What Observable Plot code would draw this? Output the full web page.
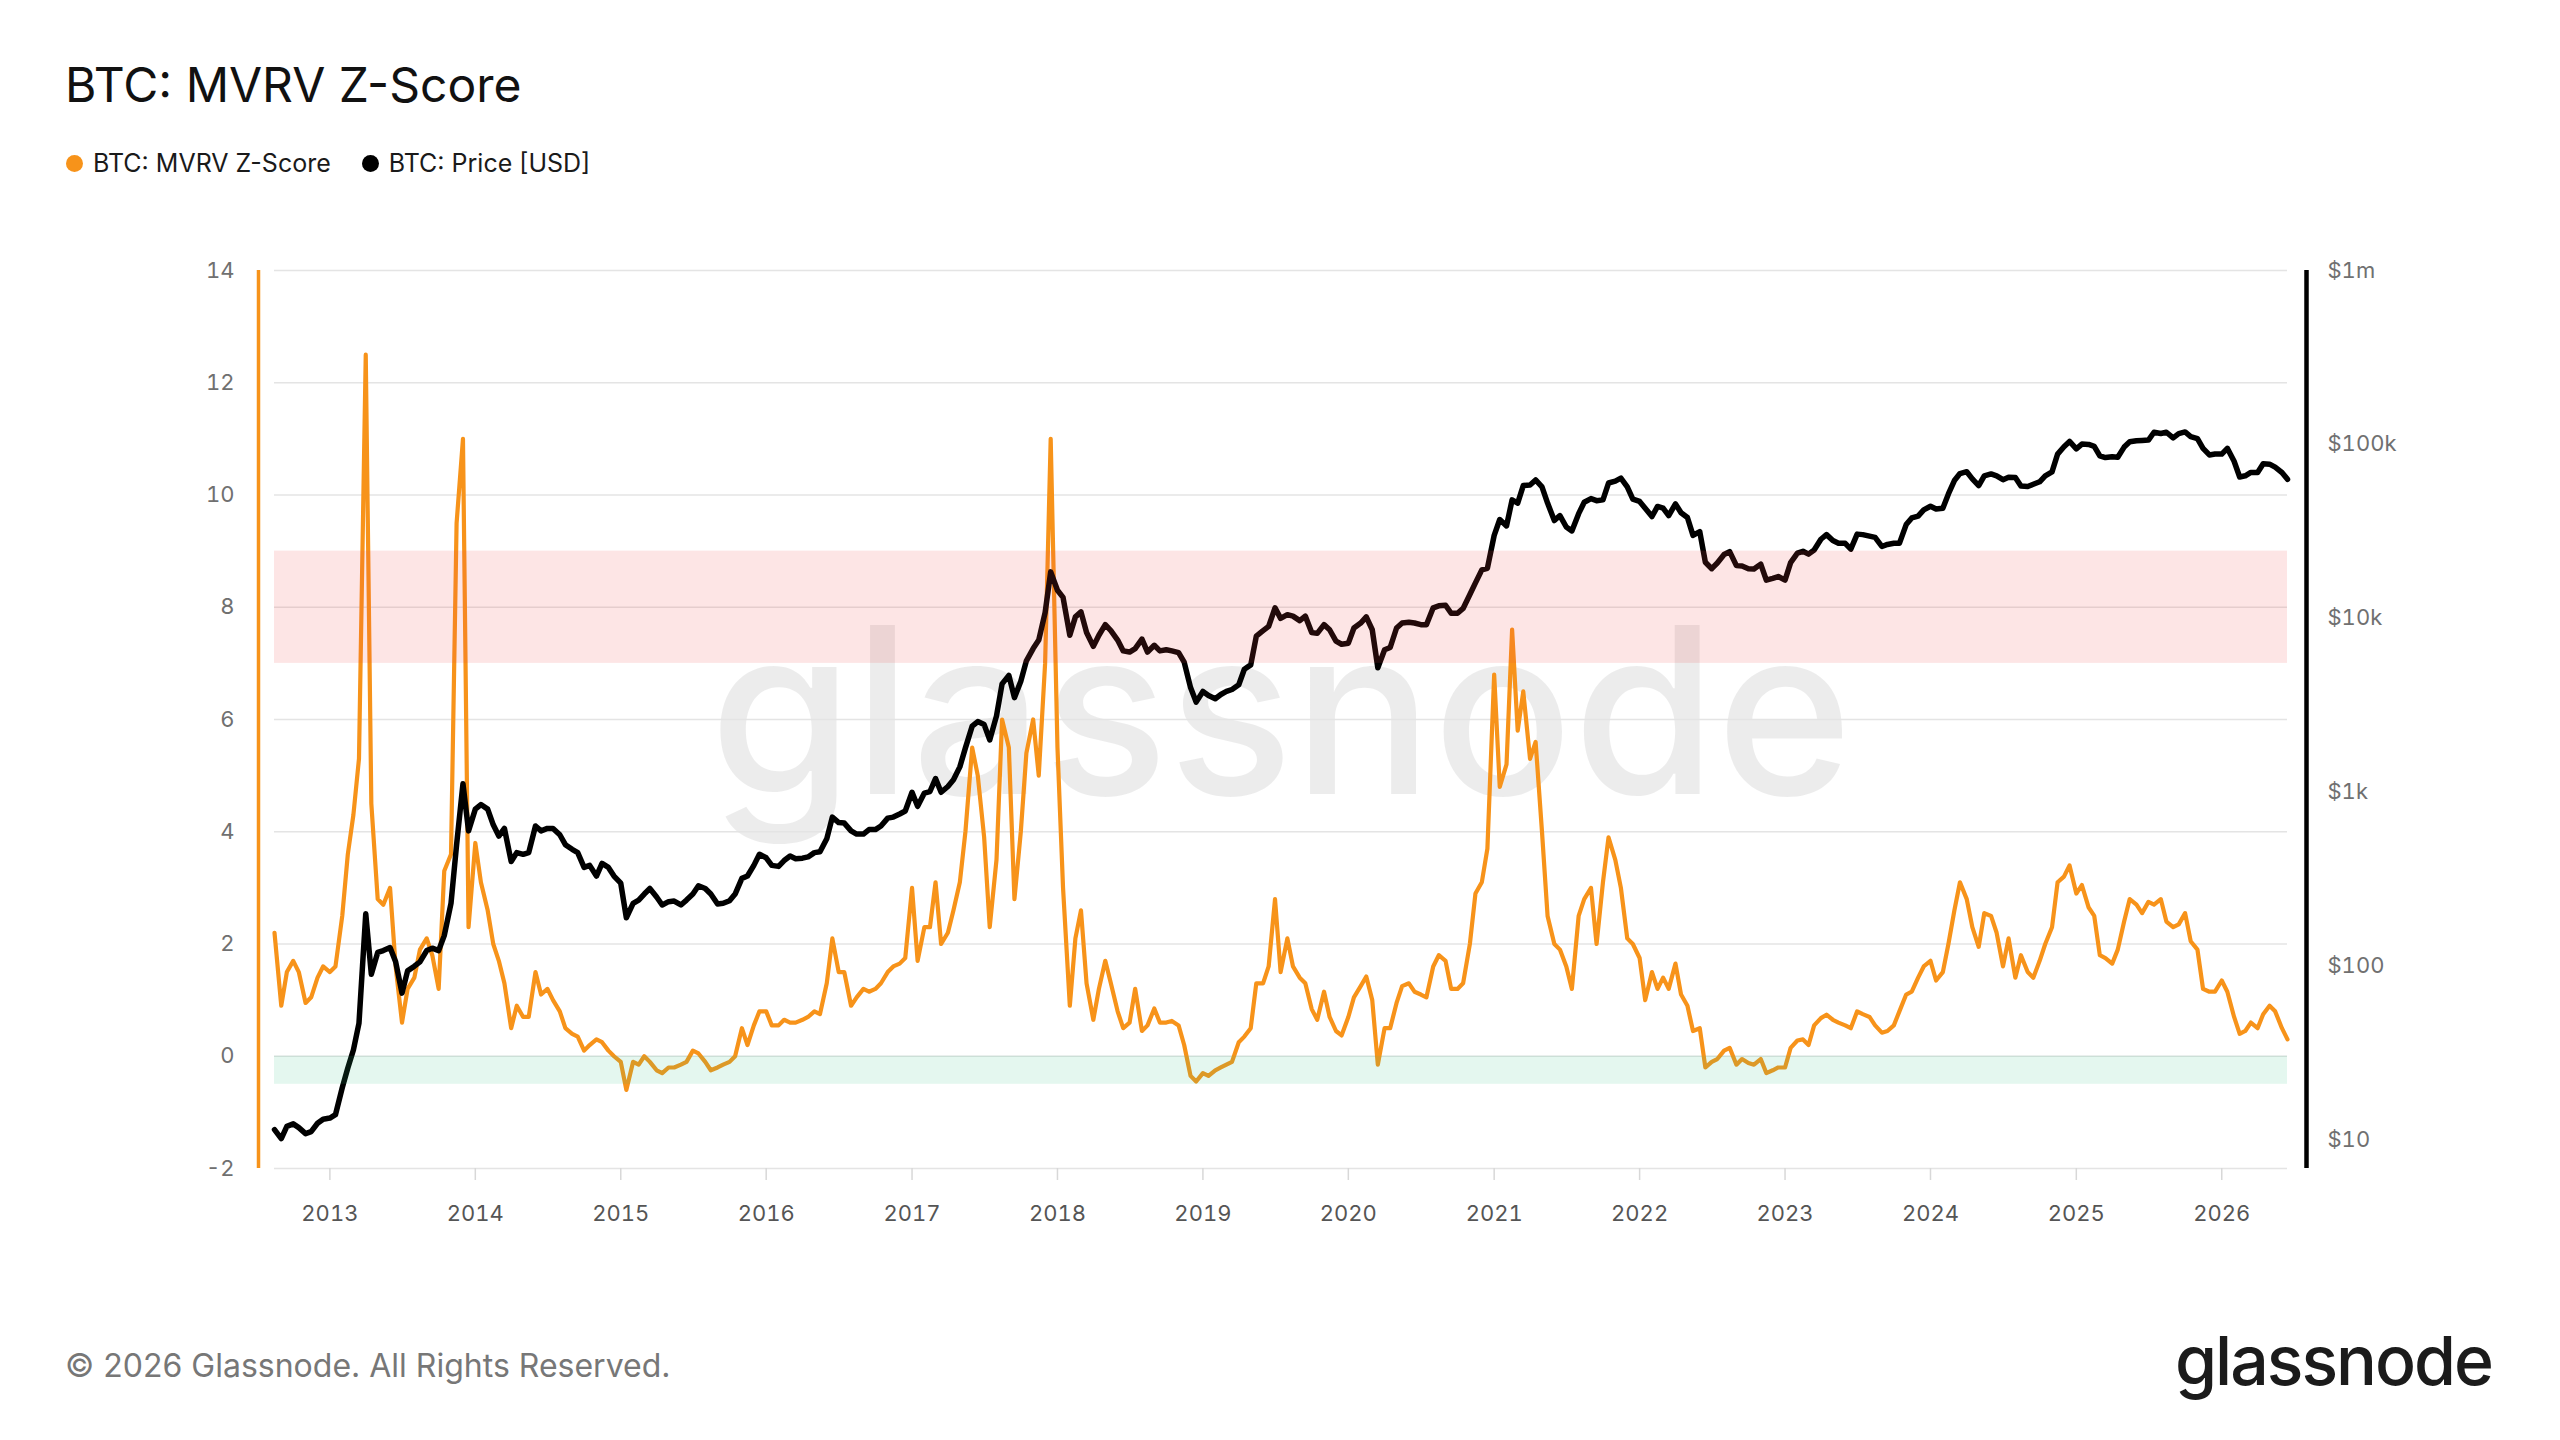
<!DOCTYPE html>
<html>
<head>
<meta charset="utf-8">
<script src="https://cdn.jsdelivr.net/npm/d3@7"></script>
<script src="https://cdn.jsdelivr.net/npm/@observablehq/plot@0.6"></script>
<style>
html,body{margin:0;padding:0;background:#fff;}
#page{position:relative;width:2560px;height:1440px;background:#fff;font-family:Inter,"Noto Sans",sans-serif;overflow:hidden;}
#title{position:absolute;left:65px;top:61px;font-size:48px;color:#111;line-height:1;white-space:nowrap;}
#legend{position:absolute;left:66px;top:150px;display:flex;align-items:center;font-size:25px;color:#1a1a1a;line-height:26px;white-space:nowrap;}
.item{display:flex;align-items:center;margin-right:31px;}
.dot{width:17px;height:17px;border-radius:50%;margin-right:10px;}
#chart{position:absolute;left:0;top:0;}
#footer{position:absolute;left:65px;top:1346px;font-size:32px;color:#777;white-space:nowrap;}
#logo{position:absolute;right:68px;top:1326px;font-size:68px;font-weight:500;letter-spacing:-2px;color:#1b1b1b;line-height:1;}
</style>
</head>
<body>
<div id="page">
  <div id="title">BTC: MVRV Z-Score</div>
  <div id="legend">
    <div class="item"><span class="dot" style="background:#f7931a"></span>BTC: MVRV Z-Score</div>
    <div class="item"><span class="dot" style="background:#000"></span>BTC: Price [USD]</div>
  </div>
  <div id="chart"></div>
  <div id="footer">© 2026 Glassnode. All Rights Reserved.</div>
  <div id="logo">glassnode</div>
</div>
<script>
// Semi-monthly samples: 2012-08-15, then the 1st and 15th of every month up to 2026-06-15
const zScore = [
  /*2012*/ 2.2, 0.9, 1.5, 1.7, 1.5, 0.95, 1.05, 1.4, 1.6,
  /*2013*/ 1.5, 1.6, 2.5, 3.6, 4.3, 5.3, 12.5, 4.5, 2.8, 2.7, 3.0, 1.6, 0.6, 1.2, 1.4, 1.9, 2.1, 1.8, 1.2, 3.3, 3.6, 9.5, 11.0, 2.3,
  /*2014*/ 3.8, 3.1, 2.6, 2.0, 1.7, 1.3, 0.5, 0.9, 0.7, 0.7, 1.5, 1.1, 1.2, 1.0, 0.8, 0.5, 0.4, 0.35, 0.1, 0.2, 0.3, 0.25, 0.1, 0.0,
  /*2015*/ -0.1, -0.6, -0.1, -0.15, 0.0, -0.1, -0.25, -0.3, -0.2, -0.2, -0.15, -0.1, 0.1, 0.05, -0.1, -0.25, -0.2, -0.15, -0.1, 0.0, 0.5, 0.2, 0.55, 0.8,
  /*2016*/ 0.8, 0.55, 0.55, 0.65, 0.6, 0.6, 0.65, 0.7, 0.8, 0.75, 1.3, 2.1, 1.5, 1.5, 0.9, 1.05, 1.2, 1.15, 1.2, 1.3, 1.5, 1.6, 1.65, 1.75,
  /*2017*/ 3.0, 1.7, 2.3, 2.3, 3.1, 2.0, 2.2, 2.6, 3.1, 4.0, 5.5, 5.0, 3.9, 2.3, 3.5, 6.0, 5.5, 2.8, 4.0, 5.4, 6.0, 5.0, 7.0, 11.0,
  /*2018*/ 5.5, 3.0, 0.9, 2.1, 2.6, 1.3, 0.65, 1.2, 1.7, 1.3, 0.8, 0.5, 0.6, 1.2, 0.45, 0.55, 0.85, 0.6, 0.6, 0.63, 0.55, 0.2, -0.35, -0.45,
  /*2019*/ -0.3, -0.35, -0.25, -0.2, -0.15, -0.1, 0.25, 0.35, 0.5, 1.3, 1.3, 1.6, 2.8, 1.5, 2.1, 1.6, 1.4, 1.3, 0.84, 0.65, 1.15, 0.7, 0.45, 0.37,
  /*2020*/ 0.7, 1.05, 1.25, 1.42, 1.0, -0.15, 0.5, 0.5, 0.95, 1.25, 1.3, 1.15, 1.1, 1.05, 1.6, 1.8, 1.7, 1.2, 1.2, 1.3, 2.0, 2.9, 3.1, 3.7,
  /*2021*/ 6.8, 4.8, 5.2, 7.6, 5.8, 6.5, 5.3, 5.6, 4.0, 2.5, 2.0, 1.9, 1.6, 1.2, 2.5, 2.8, 3.0, 2.0, 3.1, 3.9, 3.5, 3.0, 2.1, 2.0,
  /*2022*/ 1.75, 1.0, 1.5, 1.2, 1.4, 1.2, 1.65, 1.1, 0.9, 0.45, 0.5, -0.2, -0.1, -0.05, 0.1, 0.15, -0.15, -0.05, -0.12, -0.15, -0.05, -0.3, -0.25, -0.2,
  /*2023*/ -0.2, 0.15, 0.28, 0.3, 0.2, 0.55, 0.68, 0.74, 0.65, 0.6, 0.55, 0.5, 0.8, 0.75, 0.7, 0.55, 0.42, 0.45, 0.55, 0.8, 1.1, 1.15, 1.4, 1.6,
  /*2024*/ 1.7, 1.35, 1.5, 2.0, 2.6, 3.1, 2.8, 2.3, 1.95, 2.55, 2.5, 2.2, 1.6, 2.1, 1.4, 1.8, 1.5, 1.4, 1.7, 2.0, 2.3, 3.1, 3.2, 3.4,
  /*2025*/ 2.9, 3.05, 2.65, 2.5, 1.8, 1.75, 1.65, 1.9, 2.4, 2.8, 2.7, 2.55, 2.75, 2.7, 2.8, 2.4, 2.3, 2.35, 2.55, 2.05, 1.9, 1.2, 1.15, 1.15,
  /*2026*/ 1.35, 1.15, 0.7, 0.4, 0.45, 0.6, 0.5, 0.75, 0.9, 0.8, 0.5, 0.3
];
const priceUSD = [
  /*2012*/ 11.5, 10.2, 12, 12.4, 11.8, 10.9, 11.2, 12.5, 13.2,
  /*2013*/ 13.4, 14, 20, 26, 33, 47, 200, 90, 120, 123, 128, 106, 70, 94, 100, 106, 123, 127, 123, 150, 230, 500, 1120, 600,
  /*2014*/ 800, 850, 800, 650, 560, 620, 400, 450, 440, 450, 640, 600, 620, 620, 570, 500, 470, 450, 370, 380, 330, 390, 370, 330,
  /*2015*/ 300, 190, 230, 240, 260, 280, 250, 225, 235, 237, 225, 240, 260, 290, 280, 260, 228, 230, 238, 260, 320, 330, 380, 440,
  /*2016*/ 420, 380, 375, 405, 430, 415, 418, 425, 450, 455, 540, 720, 670, 665, 600, 575, 575, 610, 610, 640, 710, 720, 750, 780,
  /*2017*/ 1000, 830, 990, 1010, 1200, 1000, 1080, 1180, 1400, 1800, 2400, 2550, 2450, 2000, 2750, 4200, 4700, 3500, 4350, 5700, 6700, 7500, 10800, 18500,
  /*2018*/ 14500, 13200, 8000, 10200, 10900, 8300, 6900, 8000, 9200, 8500, 7500, 6500, 6400, 6700, 7600, 6400, 7000, 6500, 6600, 6500, 6350, 5600, 4000, 3300,
  /*2019*/ 3800, 3600, 3450, 3650, 3800, 3900, 4150, 5100, 5400, 7900, 8500, 9000, 11500, 10000, 10500, 10300, 9700, 10300, 8300, 8200, 9200, 8600, 7400, 7100,
  /*2020*/ 7200, 8800, 9400, 10200, 8600, 5200, 6600, 6800, 8800, 9400, 9500, 9400, 9200, 9200, 11500, 11800, 11900, 10700, 10700, 11400, 13700, 16000, 19000, 19400,
  /*2021*/ 30000, 37000, 34000, 48000, 46000, 58000, 58500, 62500, 57000, 46000, 36500, 39000, 33500, 31800, 40000, 46500, 48800, 47500, 48000, 60000, 61500, 64000, 57000, 48500,
  /*2022*/ 47000, 43000, 38500, 44000, 43000, 39000, 45500, 40500, 38000, 30000, 31500, 21000, 19300, 20800, 23300, 24200, 20100, 20000, 19300, 19200, 20500, 16600, 17000, 17400,
  /*2023*/ 16600, 20900, 23700, 24300, 23400, 24700, 28500, 30300, 28000, 27000, 27000, 25000, 30500, 30300, 29700, 29200, 25900, 26600, 27000, 27000, 34600, 37800, 38700, 42000,
  /*2024*/ 44100, 42500, 43000, 51900, 62000, 68000, 69700, 63400, 58000, 66000, 67700, 66000, 62700, 64800, 64600, 57600, 57300, 59000, 61000, 66000, 69500, 88000, 97000, 104000,
  /*2025*/ 94400, 100500, 100000, 97500, 86000, 84000, 85000, 84500, 96500, 103500, 105000, 105500, 106000, 117500, 115500, 117500, 109000, 115500, 118000, 111000, 108000, 95000, 87000, 88000,
  /*2026*/ 88000, 95000, 80000, 65000, 66000, 69000, 69000, 77500, 77000, 74000, 69000, 63000
];

const zDomain = [-2, 14];
const zTicks = [-2, 0, 2, 4, 6, 8, 10, 12, 14];
const priceDomain = [6.87, 1000000];
const priceTicks = [10, 100, 1000, 10000, 100000, 1000000];
const priceLabels = ["$10", "$100", "$1k", "$10k", "$100k", "$1m"];
const years = [2013, 2014, 2015, 2016, 2017, 2018, 2019, 2020, 2021, 2022, 2023, 2024, 2025, 2026];
const redZone = [7, 9];
const greenZone = [-0.5, 0];

const orange = "#f7931a";
const n = zScore.length;
const dates = [new Date(Date.UTC(2012, 7, 15))];
for (let y = 2012, m = 8; dates.length < n; ) {
  dates.push(new Date(Date.UTC(y, m, 1)));
  if (dates.length < n) dates.push(new Date(Date.UTC(y, m, 15)));
  m++; if (m === 12) { m = 0; y++; }
}
const data = dates.map((date, i) => ({date, z: zScore[i], price: priceUSD[i]}));
const yPrice = d3.scaleLog().domain(priceDomain).range(zDomain);
const x0 = dates[0], x1 = dates[n - 1];
const yearTicks = years.map(y => new Date(Date.UTC(y, 0, 1)));

const chart = Plot.plot({
  width: 2560,
  height: 1300,
  marginTop: 270,
  marginBottom: 132,
  marginLeft: 274,
  marginRight: 273,
  style: {fontFamily: "Inter, 'Noto Sans', sans-serif", background: "transparent", overflow: "visible"},
  x: {type: "utc", domain: [x0, x1], axis: null, label: null},
  y: {domain: zDomain, axis: null, label: null},
  marks: [
    Plot.text(["glassnode"], {frameAnchor: "middle", text: d => d, fontSize: 232, fontWeight: 500, fill: "#000", fillOpacity: 0.075}),
    Plot.gridY(zTicks, {stroke: "#e4e4e4", strokeOpacity: 1, strokeWidth: 1.5}),
    Plot.line(data, {x: "date", y: "z", stroke: orange, strokeWidth: 4.2, strokeLinejoin: "round"}),
    Plot.line(data, {x: "date", y: d => yPrice(d.price), stroke: "#000", strokeWidth: 5.5, strokeLinejoin: "round"}),
    Plot.rect([redZone], {x1: () => x0, x2: () => x1, y1: d => d[0], y2: d => d[1], fill: "rgb(240,70,70)", fillOpacity: 0.14}),
    Plot.rect([greenZone], {x1: () => x0, x2: () => x1, y1: d => d[0], y2: d => d[1], fill: "rgb(50,190,130)", fillOpacity: 0.13}),
    Plot.axisY(zTicks, {anchor: "left", tickSize: 0, tickPadding: 40, fontSize: 22, fill: "#707070", label: null, tickFormat: d => String(d)}),
    Plot.axisY(priceTicks.map(p => yPrice(p)), {
      anchor: "right", tickSize: 0, tickPadding: 40, fontSize: 22, fill: "#707070", label: null,
      tickFormat: v => priceLabels[Math.round(Math.log10(yPrice.invert(v))) - 1]
    }),
    Plot.axisX(yearTicks, {tickSize: 12, tickPadding: 25, fontSize: 22, fill: "#555", stroke: "#d8d8d8", strokeWidth: 1.5, tickFormat: d3.utcFormat("%Y"), label: null}),
    Plot.ruleX([x0], {dx: -16, stroke: orange, strokeWidth: 3.5}),
    Plot.ruleX([x1], {dx: 19, stroke: "#000", strokeWidth: 4.5})
  ]
});
document.getElementById("chart").appendChild(chart);
</script>
</body>
</html>
